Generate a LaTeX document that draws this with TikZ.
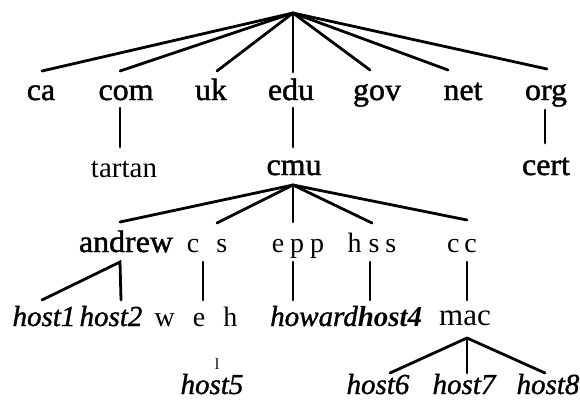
\documentclass[tikz,border=0pt]{standalone}
\usepackage{fontspec}
\setmainfont{Liberation Serif}
\newfontfamily\heavyfont[FakeBold=1.4,FakeStretch=1.03]{Liberation Serif}
\newfontfamily\lightfont{Liberation Serif}
\newfontfamily\hostfont[ItalicFeatures={FakeBold=1.2}]{Liberation Serif}
\begin{document}
\begin{tikzpicture}[x=1pt,y=-1pt,
  lbl/.style={anchor=base,inner sep=0pt,font=\fontsize{31}{31}\heavyfont},
  thinlbl/.style={anchor=base,inner sep=0pt,font=\fontsize{28}{28}\lightfont},
  hst/.style={anchor=base,inner sep=0pt,font=\fontsize{29}{29}\hostfont\itshape},
  boldhst/.style={anchor=base,inner sep=0pt,font=\fontsize{29}{29}\selectfont\bfseries\itshape},
  ticklbl/.style={anchor=base,inner sep=0pt,font=\fontsize{16}{16}\lightfont},
  edge/.style={line width=2.8pt,line cap=round}]
\useasboundingbox (0,0) rectangle (580,400);

% level 1
\node[lbl] (ca)  at (41,100) {ca};
\node[lbl] (com) at (126,100) {com};
\node[lbl] (uk)  at (211,100) {uk};
\node[lbl] (edu) at (291,100) {edu};
\node[lbl] (gov) at (377,100) {gov};
\node[lbl] (net) at (463,100) {net};
\node[lbl] (org) at (546,100) {org};

% level 2
\node[thinlbl,font=\fontsize{29}{29}\lightfont] (tartan) at (124,177) {tartan};
\node[lbl] (cmu)  at (294,175) {cmu};
\node[lbl] (cert) at (546,175) {cert};

% level 3
\node[lbl] (andrew) at (126,252) {andrew};
\node[thinlbl] (cs)  at (207,252) {c\hspace{17pt}s};
\node[thinlbl] (epp) at (298,252) {e\hspace{6pt}p\hspace{6pt}p};
\node[thinlbl] (hss) at (372,252) {h\hspace{7pt}s\hspace{6pt}s};
\node[thinlbl] (cc)  at (462,252) {c\hspace{5pt}c};

% level 4
\node[hst] (host1) at (44,326) {host1};
\node[hst] (host2) at (111,326) {host2};
\node[thinlbl] (weh) at (196,326) {w\hspace{18pt}e\hspace{18pt}h};
\node[hst] (howard) at (314,326) {howard};
\node[boldhst] (host4) at (390,326) {host4};
\node[lbl,font=\fontsize{31}{31}\lightfont] (mac) at (465,325) {mac};

% level 5
\node[ticklbl] (tick) at (217,369) {l};
\node[hst] (host5) at (212,394) {host5};
\node[hst] (host6) at (378,394) {host6};
\node[hst] (host7) at (464,394) {host7};
\node[hst] (host8) at (548,394) {host8};

% connector points
\coordinate (root) at (293,13);
\coordinate (caT)  at (42,71);
\coordinate (comT) at (120,71);
\coordinate (ukT)  at (217,71);
\coordinate (eduT) at (293,72);
\coordinate (govT) at (370,70);
\coordinate (netT) at (448,70);
\coordinate (orgT) at (547,69);

\coordinate (comB) at (120,108);
\coordinate (tartanT) at (120,147);
\coordinate (eduB) at (293,108);
\coordinate (cmuT) at (293,147);
\coordinate (orgB) at (545,110);
\coordinate (certT) at (545,143);

\coordinate (cmuB) at (293,185);
\coordinate (andrewT) at (120,222);
\coordinate (csT)  at (217,223);
\coordinate (eppT) at (293,222);
\coordinate (hssT) at (372,223);
\coordinate (ccT)  at (467,220);

\coordinate (andrewB) at (120,262);
\coordinate (host1T) at (42,300);
\coordinate (host2T) at (121,300);
\coordinate (csB) at (203,262);
\coordinate (wehT) at (203,300);
\coordinate (eppB) at (293,262);
\coordinate (howardT) at (293,300);
\coordinate (hssB) at (370,262);
\coordinate (host4T) at (370,300);
\coordinate (ccB) at (467,262);
\coordinate (macT) at (467,300);

\coordinate (macB) at (467,338);
\coordinate (host6T) at (390,373);
\coordinate (host7T) at (467,373);
\coordinate (host8T) at (545,373);

\foreach \t in {caT,comT,ukT,eduT,govT,netT,orgT}
  \draw[edge] (root) -- (\t);
\draw[edge] (comB) -- (tartanT);
\draw[edge] (eduB) -- (cmuT);
\draw[edge] (orgB) -- (certT);
\foreach \t in {andrewT,csT,eppT,hssT,ccT}
  \draw[edge] (cmuB) -- (\t);
\draw[edge] (host1T) -- (andrewB) -- (host2T);
\draw[edge] (csB) -- (wehT);
\draw[edge] (eppB) -- (howardT);
\draw[edge] (hssB) -- (host4T);
\draw[edge] (ccB) -- (macT);
\foreach \t in {host6T,host7T,host8T}
  \draw[edge] (macB) -- (\t);
\end{tikzpicture}
\end{document}
